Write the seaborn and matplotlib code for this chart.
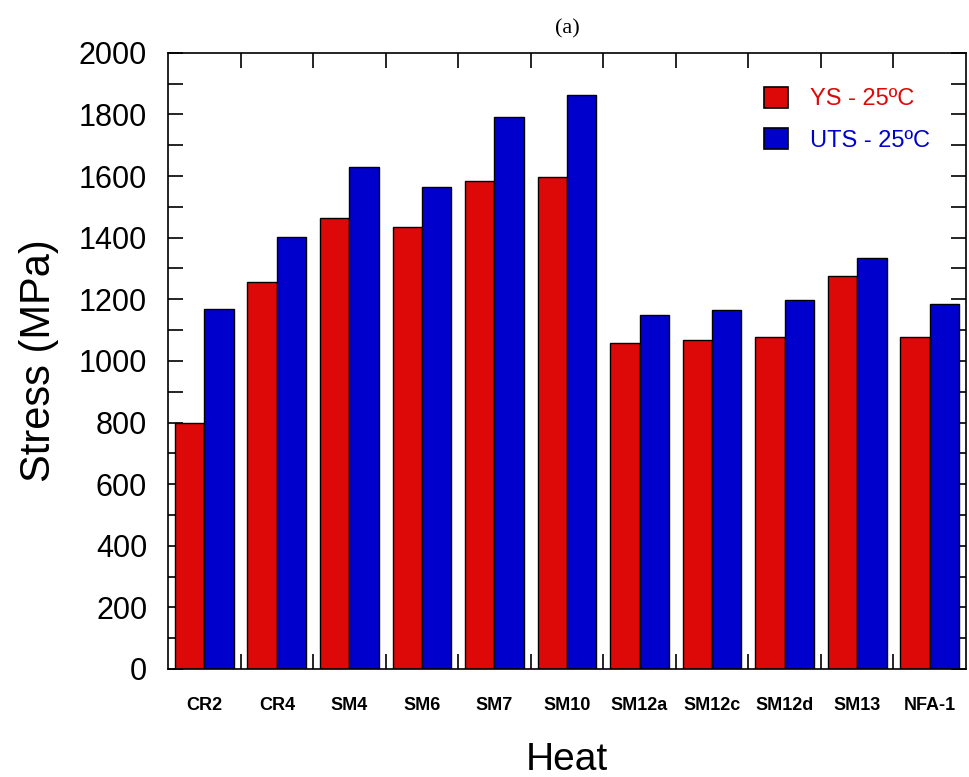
import matplotlib
matplotlib.use("Agg")
import matplotlib.pyplot as plt
from matplotlib.ticker import MultipleLocator, FixedLocator, NullFormatter
import seaborn as sns
import pandas as pd
import numpy as np

heats = ["CR2", "CR4", "SM4", "SM6", "SM7", "SM10", "SM12a", "SM12c", "SM12d", "SM13", "NFA-1"]
ys_25 = [800, 1256, 1464, 1435, 1585, 1598, 1058, 1068, 1078, 1276, 1078]
uts_25 = [1167, 1401, 1631, 1565, 1792, 1864, 1149, 1166, 1199, 1334, 1185]
series = ["YS - 25ºC", "UTS - 25ºC"]
colors = ["#DD0909", "#0000CC"]

df = pd.DataFrame({
    "Heat": heats * 2,
    "Stress": ys_25 + uts_25,
    "Series": [series[0]] * len(heats) + [series[1]] * len(heats),
})

sns.set_theme(style="ticks")
plt.rcParams["font.family"] = ["Liberation Sans", "DejaVu Sans"]
plt.rcParams["text.color"] = "black"
plt.rcParams["axes.labelcolor"] = "black"
plt.rcParams["xtick.color"] = "black"
plt.rcParams["ytick.color"] = "black"

fig = plt.figure(figsize=(9.69, 7.77), dpi=100)
ax = fig.add_axes([0.1734, 0.139, 0.8235, 0.793])

sns.barplot(data=df, x="Heat", y="Stress", hue="Series", order=heats,
            hue_order=series, palette=colors, width=0.81, gap=0,
            edgecolor="black", linewidth=1.0, saturation=1, ax=ax, legend=True)

ax.set_ylim(0, 2000)
ax.set_xlim(-0.5, len(heats) - 0.5)
ax.yaxis.set_major_locator(MultipleLocator(200))
ax.yaxis.set_minor_locator(MultipleLocator(100))
ax.tick_params(axis="y", which="both", direction="in", length=11, width=1.2,
               left=True, right=True, labelsize=22, pad=15, colors="black")
ax.tick_params(axis="x", which="major", length=0, labelsize=13, pad=20, colors="black")
for lab in ax.get_xticklabels():
    lab.set_fontweight("bold")
bounds = np.arange(0.5, len(heats) - 0.5, 1.0)
ax.xaxis.set_minor_locator(FixedLocator(bounds))
ax.xaxis.set_minor_formatter(NullFormatter())
ax.tick_params(axis="x", which="minor", direction="in", length=11, width=1.2,
               top=True, bottom=True)
for sp in ax.spines.values():
    sp.set_visible(True)
    sp.set_linewidth(1.2)
    sp.set_color("black")

ax.set_xlabel("Heat", fontsize=28, labelpad=20, color="black")
ax.set_ylabel("Stress (MPa)", fontsize=30, labelpad=14, color="black")
ax.set_title("(a)", fontsize=16, family="Liberation Serif", pad=14, color="black")

leg = ax.legend(loc="upper left", bbox_to_anchor=(0.747, 0.945), frameon=False,
                fontsize=17, handlelength=1.0, handleheight=1.0, handletextpad=0.95,
                labelspacing=0.75, borderpad=0, borderaxespad=0, labelcolor=colors)
for h in leg.legend_handles:
    h.set_edgecolor("black")
    h.set_linewidth(1.2)

fig.savefig("out.png", dpi=100)
